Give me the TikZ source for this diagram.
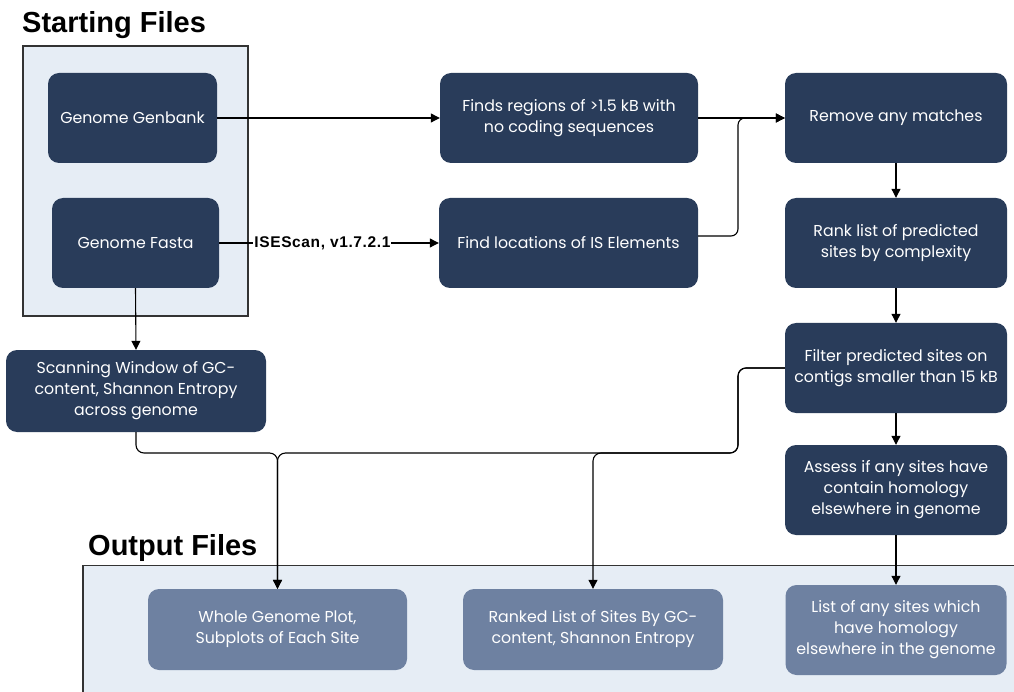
\documentclass[tikz,border=0pt]{standalone}
\usepackage{fontspec}
\setmainfont{Poppins}
\newfontfamily\titlefont{Liberation Sans}
\newfontfamily\labelfont[LetterSpace=4]{Liberation Sans}
\usetikzlibrary{arrows.meta}
\definecolor{navy}{HTML}{293C5A}
\definecolor{outblue}{HTML}{6E81A1}
\definecolor{panel}{HTML}{E6EDF5}
\definecolor{panelborder}{HTML}{333333}
\tikzset{
  proc/.style={fill=navy, rounded corners=11pt, text=white, align=center,
    font=\fontsize{15.8}{21}\selectfont, inner sep=0pt},
  outnode/.style={fill=outblue, rounded corners=11pt, text=white, align=center,
    font=\fontsize{15.8}{21}\selectfont, inner sep=0pt},
  conn/.style={draw=black, line width=1.1pt, -{Triangle[length=9pt,width=9pt]}},
  filepanel/.style={fill=panel, draw=panelborder, line width=1.4pt},
  titletext/.style={font=\titlefont\bfseries\fontsize{29}{32}\selectfont, anchor=base west, inner sep=0pt},
  tooltag/.style={font=\labelfont\bfseries\fontsize{15.5}{18}\selectfont, fill=white, inner sep=1pt}
}
\begin{document}
\begin{tikzpicture}[x=1pt,y={(0pt,-1pt)}]
\useasboundingbox (0,0) rectangle (1014,692);
\clip (0,0) rectangle (1014,692);
% panels
\path[filepanel] (23,46) rectangle (248,316);
\path[filepanel] (83,565.5) rectangle (1030,710);
\node[titletext] (t1) at (22,33) {Starting Files};
\node[titletext] (t2) at (88,555) {Output Files};
% nodes
\node[proc, minimum width=169pt, minimum height=90pt] (genbank) at (132.5,118) {Genome Genbank};
\node[proc, minimum width=167pt, minimum height=90pt] (fasta) at (135.5,243) {Genome Fasta};
\node[proc, minimum width=258pt, minimum height=90pt] (finds) at (569,118) {Finds regions of >1.5 kB with\\no coding sequences};
\node[proc, minimum width=259pt, minimum height=90pt] (findloc) at (568.5,243) {Find locations of IS Elements};
\node[proc, minimum width=222pt, minimum height=90pt] (remove) at (896,118) {Remove any matches};
\node[proc, minimum width=222pt, minimum height=90pt] (rank) at (896,243) {Rank list of predicted\\sites by complexity};
\node[proc, minimum width=222pt, minimum height=90pt] (filter) at (896,368) {Filter predicted sites on\\contigs smaller than 15 kB};
\node[proc, minimum width=222pt, minimum height=90pt] (assess) at (896,490) {Assess if any sites have\\contain homology\\elsewhere in genome};
\node[proc, minimum width=260pt, minimum height=82pt] (scan) at (136,391) {Scanning Window of GC-\\content, Shannon Entropy\\across genome};
\node[outnode, minimum width=259pt, minimum height=81pt] (whole) at (277.5,629.5) {Whole Genome Plot,\\Subplots of Each Site};
\node[outnode, minimum width=260pt, minimum height=81pt] (ranked) at (593,629.5) {Ranked List of Sites By GC-\\content, Shannon Entropy};
\node[outnode, minimum width=221pt, minimum height=90pt] (list) at (896,630) {List of any sites which\\have homology\\elsewhere in the genome};
% connectors
\draw[conn] (genbank.east) -- (finds.west);
\draw[conn] (fasta.east) -- node[tooltag, pos=0.47] {ISEScan, v1.7.2.1} (findloc.west);
\draw[conn] (finds.east) -- (remove.west);
\draw[conn, rounded corners=7pt] (findloc.east |- 0,236) -- (738,236) -- (738,118) -- (remove.west);
\draw[conn] (remove.south) -- (rank.north);
\draw[conn] (rank.south) -- (filter.north);
\draw[conn] (filter.south) -- (assess.north);
\draw[conn] (assess.south) -- (list.north);
\draw[conn] (fasta.south) -- (scan.north);
\draw[conn, rounded corners=8pt] (scan.south) -- (136,453) -- (277.5,453) -- (whole.north);
\draw[conn, rounded corners=8pt] (filter.west) -- (738,368) -- (738,453) -- (277.5,453) -- (whole.north);
\draw[conn, rounded corners=8pt] (filter.west) -- (738,368) -- (738,453) -- (593,453) -- (ranked.north);
\end{tikzpicture}
\end{document}
